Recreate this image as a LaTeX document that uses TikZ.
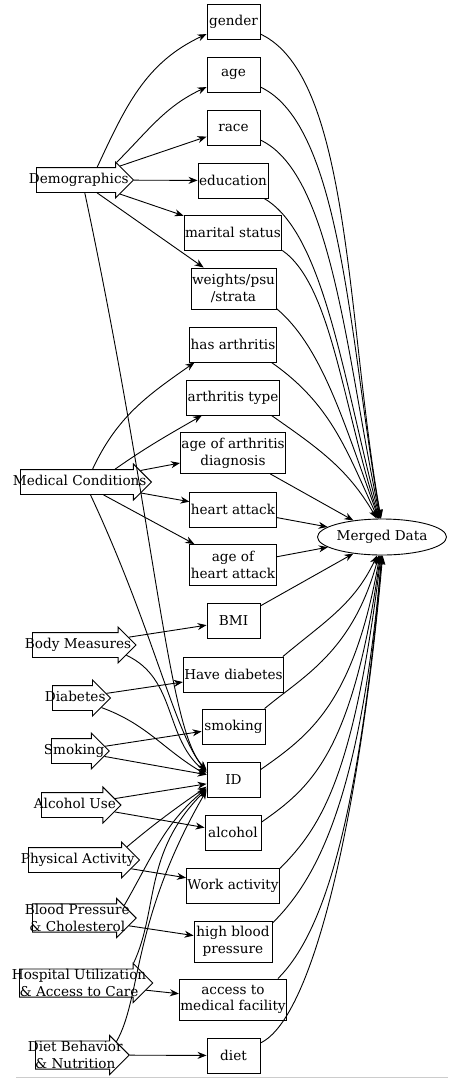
\documentclass[tikz,border=0pt]{standalone}
\usepackage{fontspec}
\setmainfont{DejaVu Serif}
\usetikzlibrary{shapes.arrows,shapes.geometric,arrows.meta}
\tikzset{every node/.style={font=\fontsize{13.6}{16.7}\selectfont},
	field node/.style={rectangle,draw,minimum height=35pt,inner xsep=1pt,inner ysep=4.5pt,align=center},
	field node two/.style={field node,minimum height=41pt},
	source base/.style={single arrow,draw,single arrow head extend=5.5pt,single arrow tip angle=90,inner xsep=-8pt,anchor=tail},
	source node/.style={source base,inner ysep=5.5pt,text height=10pt,text depth=3pt},
	source node two/.style={source base,inner ysep=0pt,align=center},
	merge node/.style={ellipse,draw,minimum width=129pt,minimum height=36pt,inner sep=0pt},
}

\begin{document}
\begin{tikzpicture}[x=1pt,y=-1pt,line width=0.9pt,>={Stealth[length=9pt,width=7pt]}]
				\useasboundingbox (0,0) rectangle (448,1080);
				
				% middle column
				\node[field node,minimum width=53pt] (gender) at (233.5,21.5) {gender};
				\node[field node,minimum width=53pt] (age) at (233.5,74.5) {age};
				\node[field node,minimum width=53pt] (race) at (233.5,127.5) {race};
				\node[field node,minimum width=70pt] (education) at (233,180.5) {education};
				\node[field node,minimum width=90pt] (marital) at (233,232.5) {marital status};
				\node[field node two,minimum width=81pt] (weights) at (233.5,288.5) {weights/psu\\/strata};
				\node[field node,minimum width=80pt] (hasarth) at (233,344.5) {has arthritis};
				\node[field node,minimum width=86pt] (arthtype) at (233,397.5) {arthritis type};
				\node[field node two,minimum width=96pt] (arthage) at (233,453) {age of arthritis\\diagnosis};
				\node[field node,minimum width=80pt] (heart) at (233,509.5) {heart attack};
				\node[field node two,minimum width=80pt] (heartage) at (233,565) {age of\\heart attack};
				\node[field node,minimum width=53pt] (bmi) at (233.5,621) {BMI};
				\node[field node,minimum width=93pt] (havediab) at (233.5,674.5) {Have diabetes};
				\node[field node,minimum width=63pt] (smoking) at (233.5,726.5) {smoking};
				\node[field node,minimum width=53pt] (id) at (233.5,779.5) {ID};
				\node[field node,minimum width=56pt] (alcohol) at (233,832.5) {alcohol};
				\node[field node,minimum width=92pt] (work) at (233,885.5) {Work activity};
				\node[field node two,minimum width=78pt] (hbp) at (233,941.5) {high blood\\pressure};
				\node[field node two,minimum width=102pt] (access) at (233,999.5) {access to\\medical facility};
				\node[field node,minimum width=53pt] (dietbox) at (233.5,1055.5) {diet};
				
				\node[merge node] (merged) at (382,537) {Merged Data};
				
				% sources
				\node[source node] (demo) at (36,180) {Demographics};
				\node[source node] (medcond) at (20,482) {Medical Conditions};
				\node[source node] (body) at (32,645) {Body Measures};
				\node[source node] (diab) at (52,698) {Diabetes};
				\node[source node] (smok) at (51,751) {Smoking};
				\node[source node] (alco) at (41,805) {Alcohol Use};
				\node[source node] (phys) at (28,860) {Physical Activity};
				\node[source node two] (bpchol) at (32,918) {Blood Pressure\\\& Cholesterol};
				\node[source node two] (hosp) at (19,983) {Hospital Utilization\\\& Access to Care};
				\node[source node two] (dietsrc) at (35,1055) {Diet Behavior\\\& Nutrition};
				
				\path[->]
				(demo.35) edge[out=65,in=205] (gender)
				(demo.25) edge[out=45,in=205] (age)
				(demo) edge (race)
				(demo) edge (education)
				(demo) edge (marital)
				(demo) edge (weights)
				(demo.-65) edge[out=-78,in=135,out distance=340pt,in distance=55pt] (id.160)
				(medcond.45) edge[out=65,in=215] (hasarth.205)
				(medcond.20) edge[out=35,in=210] (arthtype)
				(medcond) edge (arthage)
				(medcond) edge (heart)
				(medcond) edge (heartage)
				(medcond.-50) edge[out=-65,in=130,out distance=150pt,in distance=50pt] (id.163)
				(body) edge (bmi)
				(body.-12) edge[out=-25,in=140] (id.166)
				(diab) edge (havediab)
				(diab) edge[out=-20,in=150] (id.170)
				(smok) edge (smoking)
				(smok) edge (id)
				(alco) edge (id)
				(alco) edge (alcohol)
				(phys) edge (work)
				(phys.15) edge[out=40,in=215] (id.195)
				(bpchol) edge (hbp)
				(bpchol.15) edge[out=60,in=220] (id.198)
				(hosp) edge (access)
				(hosp.20) edge[out=65,in=225,out distance=60pt,in distance=90pt] (id.200)
				(dietsrc) edge (dietbox)
				(dietsrc.18) edge[out=60,in=240,out distance=50pt,in distance=150pt] (id.202);
				
				\path[->]
				(gender.-25) edge[out=-25,in=100,out distance=100pt,in distance=200pt] (merged.93)
				(age.-25) edge[out=-25,in=100,out distance=90pt,in distance=180pt] (merged.94)
				(race.-25) edge[out=-25,in=102,out distance=80pt,in distance=160pt] (merged.95)
				(education.-30) edge[out=-30,in=105,out distance=70pt,in distance=140pt] (merged.96)
				(marital.-20) edge[out=-35,in=108,out distance=60pt,in distance=120pt] (merged.98)
				(weights.-25) edge[out=-40,in=110,out distance=60pt,in distance=100pt] (merged.100)
				(hasarth.-25) edge[out=-35,in=115] (merged.102)
				(arthtype.-25) edge[out=-35,in=120] (merged.106)
				(arthage) edge (merged.150)
				(heart) edge (merged)
				(heartage) edge (merged)
				(bmi) edge (merged.-150)
				(havediab.20) edge[out=40,in=-115] (merged.-105)
				(smoking.30) edge[out=40,in=-105,out distance=50pt,in distance=100pt] (merged.-100)
				(id.20) edge[out=35,in=-100,out distance=60pt,in distance=150pt] (merged.-97)
				(alcohol.20) edge[out=35,in=-98,out distance=60pt,in distance=200pt] (merged.-95)
				(work.20) edge[out=45,in=-97,out distance=60pt,in distance=220pt] (merged.-93)
				(hbp.25) edge[out=45,in=-95,out distance=60pt,in distance=250pt] (merged.-91)
				(access.25) edge[out=45,in=-95,out distance=60pt,in distance=280pt] (merged.-90)
				(dietbox.25) edge[out=25,in=-95,out distance=60pt,in distance=250pt] (merged.-88);
				
				\draw[black!20,line width=1.2pt] (16,1077.5) -- (448,1077.5);
			\end{tikzpicture}
\end{document}
